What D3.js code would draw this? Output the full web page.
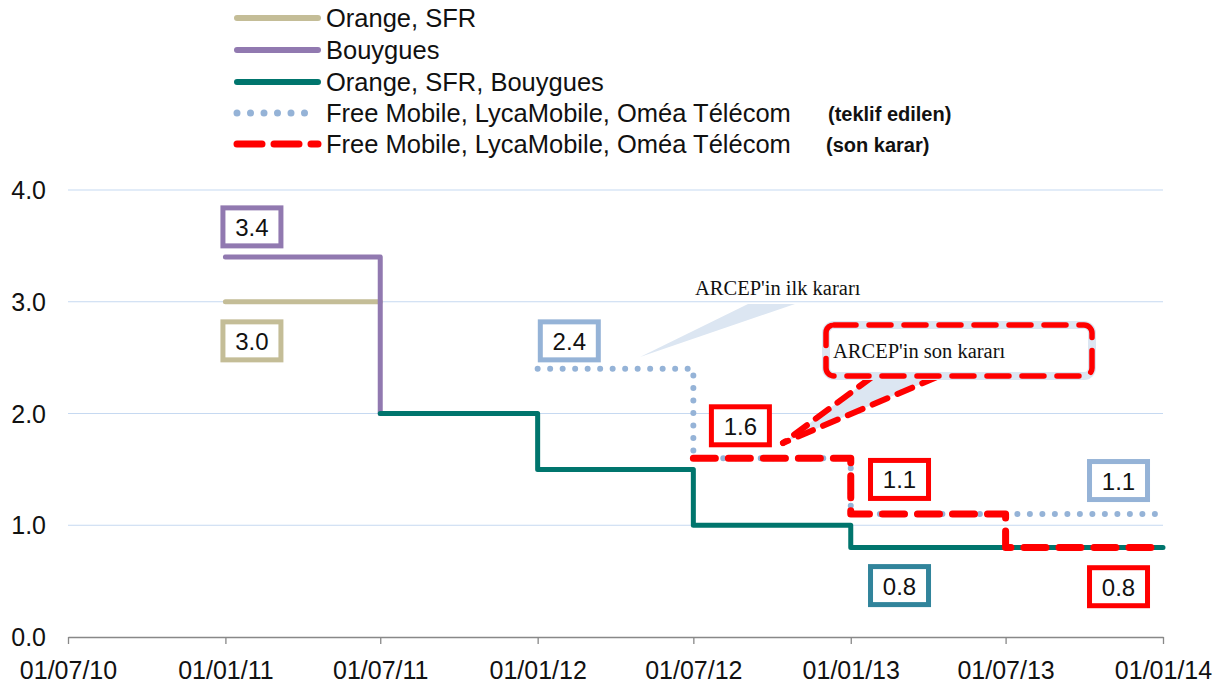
<!DOCTYPE html>
<html>
<head>
<meta charset="utf-8">
<script src="https://cdn.jsdelivr.net/npm/d3@7"></script>
<style>
  html, body { margin: 0; padding: 0; background: #fff; }
  svg { display: block; font-family: "Liberation Sans", Arial, sans-serif; }
</style>
</head>
<body>
<div id="chart"></div>
<script>
"use strict";

// tick dates and their labels
const tickDates = ["2010-07-01", "2011-01-01", "2011-07-01", "2012-01-01", "2012-07-01", "2013-01-01", "2013-07-01", "2014-01-01"];
const tickLabels = ["01/07/10", "01/01/11", "01/07/11", "01/01/12", "01/07/12", "01/01/13", "01/07/13", "01/01/14"];
const yTicks = [0, 1, 2, 3, 4];

// series (step after: each value holds until the next date)
const orangeSfr = [["2011-01-01", 3.0], ["2011-07-01", 3.0]];
const bouygues = [["2011-01-01", 3.4], ["2011-07-01", 2.0]];
const orangeSfrBouygues = [["2011-07-01", 2.0], ["2012-01-01", 1.5], ["2012-07-01", 1.0], ["2013-01-01", 0.8], ["2014-01-01", 0.8]];
const freeProposed = [["2012-01-01", 2.4], ["2012-07-01", 1.6], ["2013-01-01", 1.1], ["2014-01-01", 1.1]];
const freeFinal = [["2012-07-01", 1.6], ["2013-01-01", 1.1], ["2013-07-01", 0.8], ["2014-01-01", 0.8]];

const legendNames = ["Orange, SFR", "Bouygues", "Orange, SFR, Bouygues", "Free Mobile, LycaMobile, Oméa Télécom", "Free Mobile, LycaMobile, Oméa Télécom"];
const legendNotes = ["", "", "", "(teklif edilen)", "(son karar)"];

// value labels: text, anchor date, anchor value, border colour
const valueLabels = [
    ["3.4", "2011-02-01", 3.67, "#9179B0"],
    ["3.0", "2011-02-01", 2.65, "#C4BD97"],
    ["2.4", "2012-02-07", 2.65, "#95B3D7"],
    ["1.6", "2012-08-25", 1.89, "#FF0000"],
    ["1.1", "2013-02-27", 1.41, "#FF0000"],
    ["1.1", "2013-11-10", 1.40, "#95B3D7"],
    ["0.8", "2013-02-27", 0.46, "#31849B"],
    ["0.8", "2013-11-10", 0.45, "#FF0000"]
];

const width = 1230, height = 686;
const parse = d3.timeParse("%Y-%m-%d");

const x = d3.scaleTime()
    .domain([parse("2010-07-01"), parse("2014-01-01")])
    .range([68, 1163]);
const y = d3.scaleLinear().domain([0, 4]).range([637, 190]);

const svg = d3.select("#chart").append("svg")
    .attr("width", width).attr("height", height);

// gridlines
svg.append("g").selectAll("line")
    .data(yTicks.filter(d => d > 0))
    .join("line")
    .attr("x1", 68).attr("x2", 1163)
    .attr("y1", d => y(d)).attr("y2", d => y(d))
    .attr("stroke", "#C6D9F1").attr("stroke-width", 1.2);

// y labels
svg.append("g").selectAll("text")
    .data(yTicks)
    .join("text")
    .attr("x", 46).attr("y", d => y(d) + 9)
    .attr("text-anchor", "end")
    .attr("font-size", 25)
    .attr("fill", "#111")
    .text(d => d.toFixed(1));

// x axis
const xAxis = d3.axisBottom(x)
    .tickValues(tickDates.map(parse))
    .tickFormat((d, i) => tickLabels[i])
    .tickSize(7)
    .tickSizeOuter(0);
const gx = svg.append("g")
    .attr("transform", `translate(0,${y(0)})`)
    .call(xAxis);
gx.select(".domain").attr("stroke", "#888").attr("stroke-width", 1.3);
gx.selectAll(".tick line").attr("stroke", "#888").attr("stroke-width", 1.3);
gx.selectAll(".tick text")
    .attr("font-size", 25).attr("font-family", "'Liberation Sans', Arial, sans-serif")
    .attr("fill", "#111").attr("y", 42).attr("dy", 0);

const line = d3.line()
    .x(d => x(parse(d[0])))
    .y(d => y(d[1]))
    .curve(d3.curveStepAfter);

// callout for first decision (drawn under lines)
const callout1 = [[748, 304], [795, 304], [640, 357]];
svg.append("polygon")
    .attr("points", callout1.map(p => p.join(",")).join(" "))
    .attr("fill", "#DCE6F2");
svg.append("text")
    .attr("x", 695).attr("y", 295)
    .attr("font-family", "'Liberation Serif', 'DejaVu Serif', serif")
    .attr("font-size", 20.5)
    .attr("fill", "#111")
    .text("ARCEP'in ilk kararı");

// callout for final decision
const tail = [[872, 377], [937, 377], [783, 443]];
svg.append("polygon")
    .attr("points", tail.map(p => p.join(",")).join(" "))
    .attr("fill", "#DCE6F2");
svg.append("line")
    .attr("x1", tail[0][0]).attr("y1", tail[0][1]).attr("x2", tail[2][0]).attr("y2", tail[2][1])
    .attr("stroke", "#FF0000").attr("stroke-width", 6).attr("stroke-dasharray", "16 11").attr("stroke-linecap", "round");
svg.append("line")
    .attr("x1", tail[1][0]).attr("y1", tail[1][1]).attr("x2", tail[2][0]).attr("y2", tail[2][1])
    .attr("stroke", "#FF0000").attr("stroke-width", 6).attr("stroke-dasharray", "16 11").attr("stroke-linecap", "round");
svg.append("rect")
    .attr("x", 826).attr("y", 325).attr("width", 266).attr("height", 51).attr("rx", 8)
    .attr("fill", "#fff").attr("stroke", "#DCE6F2").attr("stroke-width", 8);
svg.append("rect")
    .attr("x", 826).attr("y", 325).attr("width", 266).attr("height", 51).attr("rx", 8)
    .attr("fill", "none").attr("stroke", "#FF0000").attr("stroke-width", 5.5)
    .attr("stroke-dasharray", "22 13").attr("stroke-linecap", "round");
svg.append("text")
    .attr("x", 833).attr("y", 358)
    .attr("font-family", "'Liberation Serif', 'DejaVu Serif', serif")
    .attr("font-size", 20.5)
    .attr("fill", "#111")
    .text("ARCEP'in son kararı");

// series lines
const styles = [
    { data: orangeSfr, color: "#C4BD97", w: 5, dash: null },
    { data: bouygues, color: "#9179B0", w: 5, dash: null },
    { data: orangeSfrBouygues, color: "#00756D", w: 5, dash: null },
    { data: freeProposed, color: "#95B3D7", w: 6, dash: "0 12.5" },
    { data: freeFinal, color: "#FF0000", w: 7, dash: "22 13" }
];

styles.forEach(s => {
    svg.append("path")
        .datum(s.data)
        .attr("d", line)
        .attr("fill", "none")
        .attr("stroke", s.color)
        .attr("stroke-width", s.w)
        .attr("stroke-linejoin", "round")
        .attr("stroke-linecap", "round")
        .attr("stroke-dasharray", s.dash);
});

// value labels
const lbl = svg.append("g").selectAll("g")
    .data(valueLabels)
    .join("g")
    .attr("transform", d => `translate(${x(parse(d[1]))},${y(d[2])})`);
lbl.append("rect")
    .attr("x", -29).attr("y", -19).attr("width", 58).attr("height", 38)
    .attr("fill", "#fff").attr("stroke", d => d[3]).attr("stroke-width", 5);
lbl.append("text")
    .attr("text-anchor", "middle").attr("y", 9)
    .attr("font-size", 24).attr("fill", "#111")
    .text(d => d[0]);

// legend
const lg = svg.append("g").selectAll("g")
    .data(legendNames)
    .join("g")
    .attr("transform", (d, i) => `translate(0,${[18, 50, 82, 113, 144][i]})`);
lg.append("line")
    .attr("x1", 237).attr("x2", 318)
    .attr("stroke", (d, i) => styles[i].color)
    .attr("stroke-width", (d, i) => i < 3 ? 6 : 7)
    .attr("stroke-linecap", "round")
    .attr("stroke-dasharray", (d, i) => i === 3 ? "0 13.5" : i === 4 ? "25 12" : null);
lg.append("text")
    .attr("x", 326).attr("y", 9)
    .attr("font-size", 25.5).attr("fill", "#111")
    .text(d => d);
lg.append("text")
    .attr("x", (d, i) => i === 3 ? 828 : 826).attr("y", 8)
    .attr("font-size", 20).attr("font-weight", "bold").attr("fill", "#111")
    .text((d, i) => legendNotes[i]);
</script>
</body>
</html>
